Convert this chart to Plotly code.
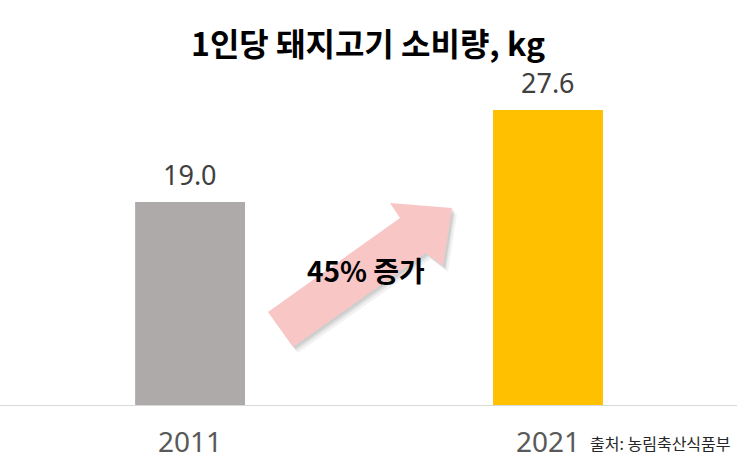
import plotly.graph_objects as go

# data
years = ["2011", "2021"]
consumption = [19.0, 27.6]
bar_colors = ["#AEAAAA", "#FFC000"]
title_text = "1인당 돼지고기 소비량, kg"
arrow_label = "45% 증가"
source_text = "출처: 농림축산식품부"

W, H = 737, 468
PLOT_H = 405  # px from top to baseline


def px_to_paper(x, y):
	return x / W, (PLOT_H - y) / PLOT_H


def arrow_path(pts, dx=0, dy=0):
	parts = []
	for i, (x, y) in enumerate(pts):
		px, py = px_to_paper(x + dx, y + dy)
		parts.append(("M" if i == 0 else "L") + f"{px:.4f},{py:.4f}")
	return " ".join(parts) + " Z"


# block arrow outline (decoration, in pixels)
arrow_pts = [(268, 312), (400, 218), (390, 203), (452, 208),
			 (443, 266), (426, 253), (293, 347)]

fig = go.Figure()
fig.add_trace(go.Bar(
	x=years,
	y=consumption,
	marker=dict(color=bar_colors, line=dict(width=0)),
	width=0.307,
	hoverinfo="skip",
))

# value labels above bars (x by category index)
for i, v in enumerate(consumption):
	fig.add_annotation(x=i, y=v, xref="x", yref="y", text=f"{v:.1f}", showarrow=False,
					   xanchor="center", yanchor="middle", yshift=27,
					   font=dict(size=27, color="#404040", family="Noto Sans, Open Sans, sans-serif"))

# soft shadow + arrow
for dx, dy, col in [(5, 6, "rgba(0,0,0,0.05)"), (3, 4, "rgba(0,0,0,0.07)"), (2, 2, "rgba(0,0,0,0.08)")]:
	fig.add_shape(type="path", xref="paper", yref="paper",
				  path=arrow_path(arrow_pts, dx, dy), fillcolor=col,
				  line=dict(width=0), layer="above")
fig.add_shape(type="path", xref="paper", yref="paper",
			  path=arrow_path(arrow_pts), fillcolor="#F9C6C6",
			  line=dict(width=0), layer="above")

ax, ay = px_to_paper(366, 270)
fig.add_annotation(text=f"<b>{arrow_label}</b>", x=ax, y=ay, xref="paper", yref="paper",
				   xanchor="center", yanchor="middle", showarrow=False,
				   font=dict(size=28, color="#000000", family="Noto Sans CJK KR"))

tx, ty = px_to_paper(368, 42)
fig.add_annotation(text=f"<b>{title_text}</b>", x=tx, y=ty, xref="paper", yref="paper",
				   xanchor="center", yanchor="middle", showarrow=False,
				   font=dict(size=32, color="#000000", family="Noto Sans CJK KR"))

sx, sy = px_to_paper(733, 443)
fig.add_annotation(text=source_text, x=sx, y=sy, xref="paper", yref="paper",
				   xanchor="right", yanchor="middle", showarrow=False,
				   font=dict(size=16, color="#262626", family="Noto Sans CJK KR"))

fig.update_layout(
	width=W, height=H,
	margin=dict(l=0, r=0, t=0, b=H - PLOT_H),
	plot_bgcolor="white", paper_bgcolor="white",
	showlegend=False,
	xaxis=dict(
		type="category",
		range=[-0.531, 1.528],
		showgrid=False, zeroline=False,
		showline=True, linecolor="#D9D9D9", linewidth=1,
		ticks="", ticklabelstandoff=12,
		tickfont=dict(size=28, color="#595959", family="Noto Sans, Open Sans, sans-serif"),
	),
	yaxis=dict(range=[0, PLOT_H / 10.69], visible=False, showgrid=False, zeroline=False),
)

fig.write_html("out.html", config={"displayModeBar": False},
			   post_script="document.body.style.margin='0';")
